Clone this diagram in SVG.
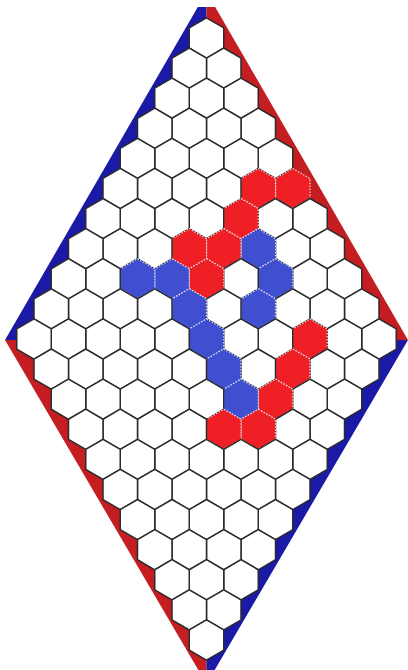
<svg xmlns="http://www.w3.org/2000/svg" xmlns:xlink="http://www.w3.org/1999/xlink" width="408" height="670" viewBox="0 0 408 670">
<style>
.bg{fill:#ffffff}
.bb{fill:#1a1aa6}
.br{fill:#c41e22}
#cells use{fill:#ffffff;stroke:#2b2b2b;stroke-width:1.5;stroke-linejoin:round}
#cells use.r{fill:#ee2026;stroke:#f6dede;stroke-width:1.2;stroke-dasharray:1.5 1.5}
#cells use.b{fill:#3f4fd0;stroke:#e0e4f6;stroke-width:1.2;stroke-dasharray:1.5 1.5}
</style>
<defs>
<polygon id="h" points="0,-20.1 17.25,-10.05 17.25,10.05 0,20.1 -17.25,10.05 -17.25,-10.05"/>
<clipPath id="clip"><rect x="0" y="7" width="408" height="663"/></clipPath>
</defs>
<rect class="bg" x="0" y="0" width="408" height="670"/>
<g id="border" clip-path="url(#clip)">
<polygon class="bb" points="206.5,-8 5,340 206.5,340"/>
<polygon class="br" points="206.5,-8 408,340 206.5,340"/>
<polygon class="br" points="5,340 206.5,684 206.5,340"/>
<polygon class="bb" points="408,340 206.5,684 206.5,340"/>
</g>
<g id="connectors"/>
<g id="cells">
<g id="c0_0"><use href="#h" x="206.5" y="38"/></g>
<g id="c0_1"><use href="#h" x="223.75" y="68.1"/></g>
<g id="c0_2"><use href="#h" x="241" y="98.2"/></g>
<g id="c0_3"><use href="#h" x="258.25" y="128.3"/></g>
<g id="c0_4"><use href="#h" x="275.5" y="158.4"/></g>
<g id="c0_5"><use href="#h" class="r" x="292.75" y="188.5"/></g>
<g id="c0_6"><use href="#h" x="310" y="218.6"/></g>
<g id="c0_7"><use href="#h" x="327.25" y="248.7"/></g>
<g id="c0_8"><use href="#h" x="344.5" y="278.8"/></g>
<g id="c0_9"><use href="#h" x="361.75" y="308.9"/></g>
<g id="c0_10"><use href="#h" x="379" y="339"/></g>
<g id="c1_0"><use href="#h" x="189.25" y="68.1"/></g>
<g id="c1_1"><use href="#h" x="206.5" y="98.2"/></g>
<g id="c1_2"><use href="#h" x="223.75" y="128.3"/></g>
<g id="c1_3"><use href="#h" x="241" y="158.4"/></g>
<g id="c1_4"><use href="#h" class="r" x="258.25" y="188.5"/></g>
<g id="c1_5"><use href="#h" x="275.5" y="218.6"/></g>
<g id="c1_6"><use href="#h" x="292.75" y="248.7"/></g>
<g id="c1_7"><use href="#h" x="310" y="278.8"/></g>
<g id="c1_8"><use href="#h" x="327.25" y="308.9"/></g>
<g id="c1_9"><use href="#h" x="344.5" y="339"/></g>
<g id="c1_10"><use href="#h" x="361.75" y="369.1"/></g>
<g id="c2_0"><use href="#h" x="172" y="98.2"/></g>
<g id="c2_1"><use href="#h" x="189.25" y="128.3"/></g>
<g id="c2_2"><use href="#h" x="206.5" y="158.4"/></g>
<g id="c2_3"><use href="#h" x="223.75" y="188.5"/></g>
<g id="c2_4"><use href="#h" class="r" x="241" y="218.6"/></g>
<g id="c2_5"><use href="#h" class="b" x="258.25" y="248.7"/></g>
<g id="c2_6"><use href="#h" class="b" x="275.5" y="278.8"/></g>
<g id="c2_7"><use href="#h" x="292.75" y="308.9"/></g>
<g id="c2_8"><use href="#h" class="r" x="310" y="339"/></g>
<g id="c2_9"><use href="#h" x="327.25" y="369.1"/></g>
<g id="c2_10"><use href="#h" x="344.5" y="399.2"/></g>
<g id="c3_0"><use href="#h" x="154.75" y="128.3"/></g>
<g id="c3_1"><use href="#h" x="172" y="158.4"/></g>
<g id="c3_2"><use href="#h" x="189.25" y="188.5"/></g>
<g id="c3_3"><use href="#h" x="206.5" y="218.6"/></g>
<g id="c3_4"><use href="#h" class="r" x="223.75" y="248.7"/></g>
<g id="c3_5"><use href="#h" x="241" y="278.8"/></g>
<g id="c3_6"><use href="#h" class="b" x="258.25" y="308.9"/></g>
<g id="c3_7"><use href="#h" x="275.5" y="339"/></g>
<g id="c3_8"><use href="#h" class="r" x="292.75" y="369.1"/></g>
<g id="c3_9"><use href="#h" x="310" y="399.2"/></g>
<g id="c3_10"><use href="#h" x="327.25" y="429.3"/></g>
<g id="c4_0"><use href="#h" x="137.5" y="158.4"/></g>
<g id="c4_1"><use href="#h" x="154.75" y="188.5"/></g>
<g id="c4_2"><use href="#h" x="172" y="218.6"/></g>
<g id="c4_3"><use href="#h" class="r" x="189.25" y="248.7"/></g>
<g id="c4_4"><use href="#h" class="r" x="206.5" y="278.8"/></g>
<g id="c4_5"><use href="#h" x="223.75" y="308.9"/></g>
<g id="c4_6"><use href="#h" x="241" y="339"/></g>
<g id="c4_7"><use href="#h" x="258.25" y="369.1"/></g>
<g id="c4_8"><use href="#h" class="r" x="275.5" y="399.2"/></g>
<g id="c4_9"><use href="#h" x="292.75" y="429.3"/></g>
<g id="c4_10"><use href="#h" x="310" y="459.4"/></g>
<g id="c5_0"><use href="#h" x="120.25" y="188.5"/></g>
<g id="c5_1"><use href="#h" x="137.5" y="218.6"/></g>
<g id="c5_2"><use href="#h" x="154.75" y="248.7"/></g>
<g id="c5_3"><use href="#h" class="b" x="172" y="278.8"/></g>
<g id="c5_4"><use href="#h" class="b" x="189.25" y="308.9"/></g>
<g id="c5_5"><use href="#h" class="b" x="206.5" y="339"/></g>
<g id="c5_6"><use href="#h" class="b" x="223.75" y="369.1"/></g>
<g id="c5_7"><use href="#h" class="b" x="241" y="399.2"/></g>
<g id="c5_8"><use href="#h" class="r" x="258.25" y="429.3"/></g>
<g id="c5_9"><use href="#h" x="275.5" y="459.4"/></g>
<g id="c5_10"><use href="#h" x="292.75" y="489.5"/></g>
<g id="c6_0"><use href="#h" x="103" y="218.6"/></g>
<g id="c6_1"><use href="#h" x="120.25" y="248.7"/></g>
<g id="c6_2"><use href="#h" class="b" x="137.5" y="278.8"/></g>
<g id="c6_3"><use href="#h" x="154.75" y="308.9"/></g>
<g id="c6_4"><use href="#h" x="172" y="339"/></g>
<g id="c6_5"><use href="#h" x="189.25" y="369.1"/></g>
<g id="c6_6"><use href="#h" x="206.5" y="399.2"/></g>
<g id="c6_7"><use href="#h" class="r" x="223.75" y="429.3"/></g>
<g id="c6_8"><use href="#h" x="241" y="459.4"/></g>
<g id="c6_9"><use href="#h" x="258.25" y="489.5"/></g>
<g id="c6_10"><use href="#h" x="275.5" y="519.6"/></g>
<g id="c7_0"><use href="#h" x="85.75" y="248.7"/></g>
<g id="c7_1"><use href="#h" x="103" y="278.8"/></g>
<g id="c7_2"><use href="#h" x="120.25" y="308.9"/></g>
<g id="c7_3"><use href="#h" x="137.5" y="339"/></g>
<g id="c7_4"><use href="#h" x="154.75" y="369.1"/></g>
<g id="c7_5"><use href="#h" x="172" y="399.2"/></g>
<g id="c7_6"><use href="#h" x="189.25" y="429.3"/></g>
<g id="c7_7"><use href="#h" x="206.5" y="459.4"/></g>
<g id="c7_8"><use href="#h" x="223.75" y="489.5"/></g>
<g id="c7_9"><use href="#h" x="241" y="519.6"/></g>
<g id="c7_10"><use href="#h" x="258.25" y="549.7"/></g>
<g id="c8_0"><use href="#h" x="68.5" y="278.8"/></g>
<g id="c8_1"><use href="#h" x="85.75" y="308.9"/></g>
<g id="c8_2"><use href="#h" x="103" y="339"/></g>
<g id="c8_3"><use href="#h" x="120.25" y="369.1"/></g>
<g id="c8_4"><use href="#h" x="137.5" y="399.2"/></g>
<g id="c8_5"><use href="#h" x="154.75" y="429.3"/></g>
<g id="c8_6"><use href="#h" x="172" y="459.4"/></g>
<g id="c8_7"><use href="#h" x="189.25" y="489.5"/></g>
<g id="c8_8"><use href="#h" x="206.5" y="519.6"/></g>
<g id="c8_9"><use href="#h" x="223.75" y="549.7"/></g>
<g id="c8_10"><use href="#h" x="241" y="579.8"/></g>
<g id="c9_0"><use href="#h" x="51.25" y="308.9"/></g>
<g id="c9_1"><use href="#h" x="68.5" y="339"/></g>
<g id="c9_2"><use href="#h" x="85.75" y="369.1"/></g>
<g id="c9_3"><use href="#h" x="103" y="399.2"/></g>
<g id="c9_4"><use href="#h" x="120.25" y="429.3"/></g>
<g id="c9_5"><use href="#h" x="137.5" y="459.4"/></g>
<g id="c9_6"><use href="#h" x="154.75" y="489.5"/></g>
<g id="c9_7"><use href="#h" x="172" y="519.6"/></g>
<g id="c9_8"><use href="#h" x="189.25" y="549.7"/></g>
<g id="c9_9"><use href="#h" x="206.5" y="579.8"/></g>
<g id="c9_10"><use href="#h" x="223.75" y="609.9"/></g>
<g id="c10_0"><use href="#h" x="34" y="339"/></g>
<g id="c10_1"><use href="#h" x="51.25" y="369.1"/></g>
<g id="c10_2"><use href="#h" x="68.5" y="399.2"/></g>
<g id="c10_3"><use href="#h" x="85.75" y="429.3"/></g>
<g id="c10_4"><use href="#h" x="103" y="459.4"/></g>
<g id="c10_5"><use href="#h" x="120.25" y="489.5"/></g>
<g id="c10_6"><use href="#h" x="137.5" y="519.6"/></g>
<g id="c10_7"><use href="#h" x="154.75" y="549.7"/></g>
<g id="c10_8"><use href="#h" x="172" y="579.8"/></g>
<g id="c10_9"><use href="#h" x="189.25" y="609.9"/></g>
<g id="c10_10"><use href="#h" x="206.5" y="640"/></g>
</g>
</svg>
